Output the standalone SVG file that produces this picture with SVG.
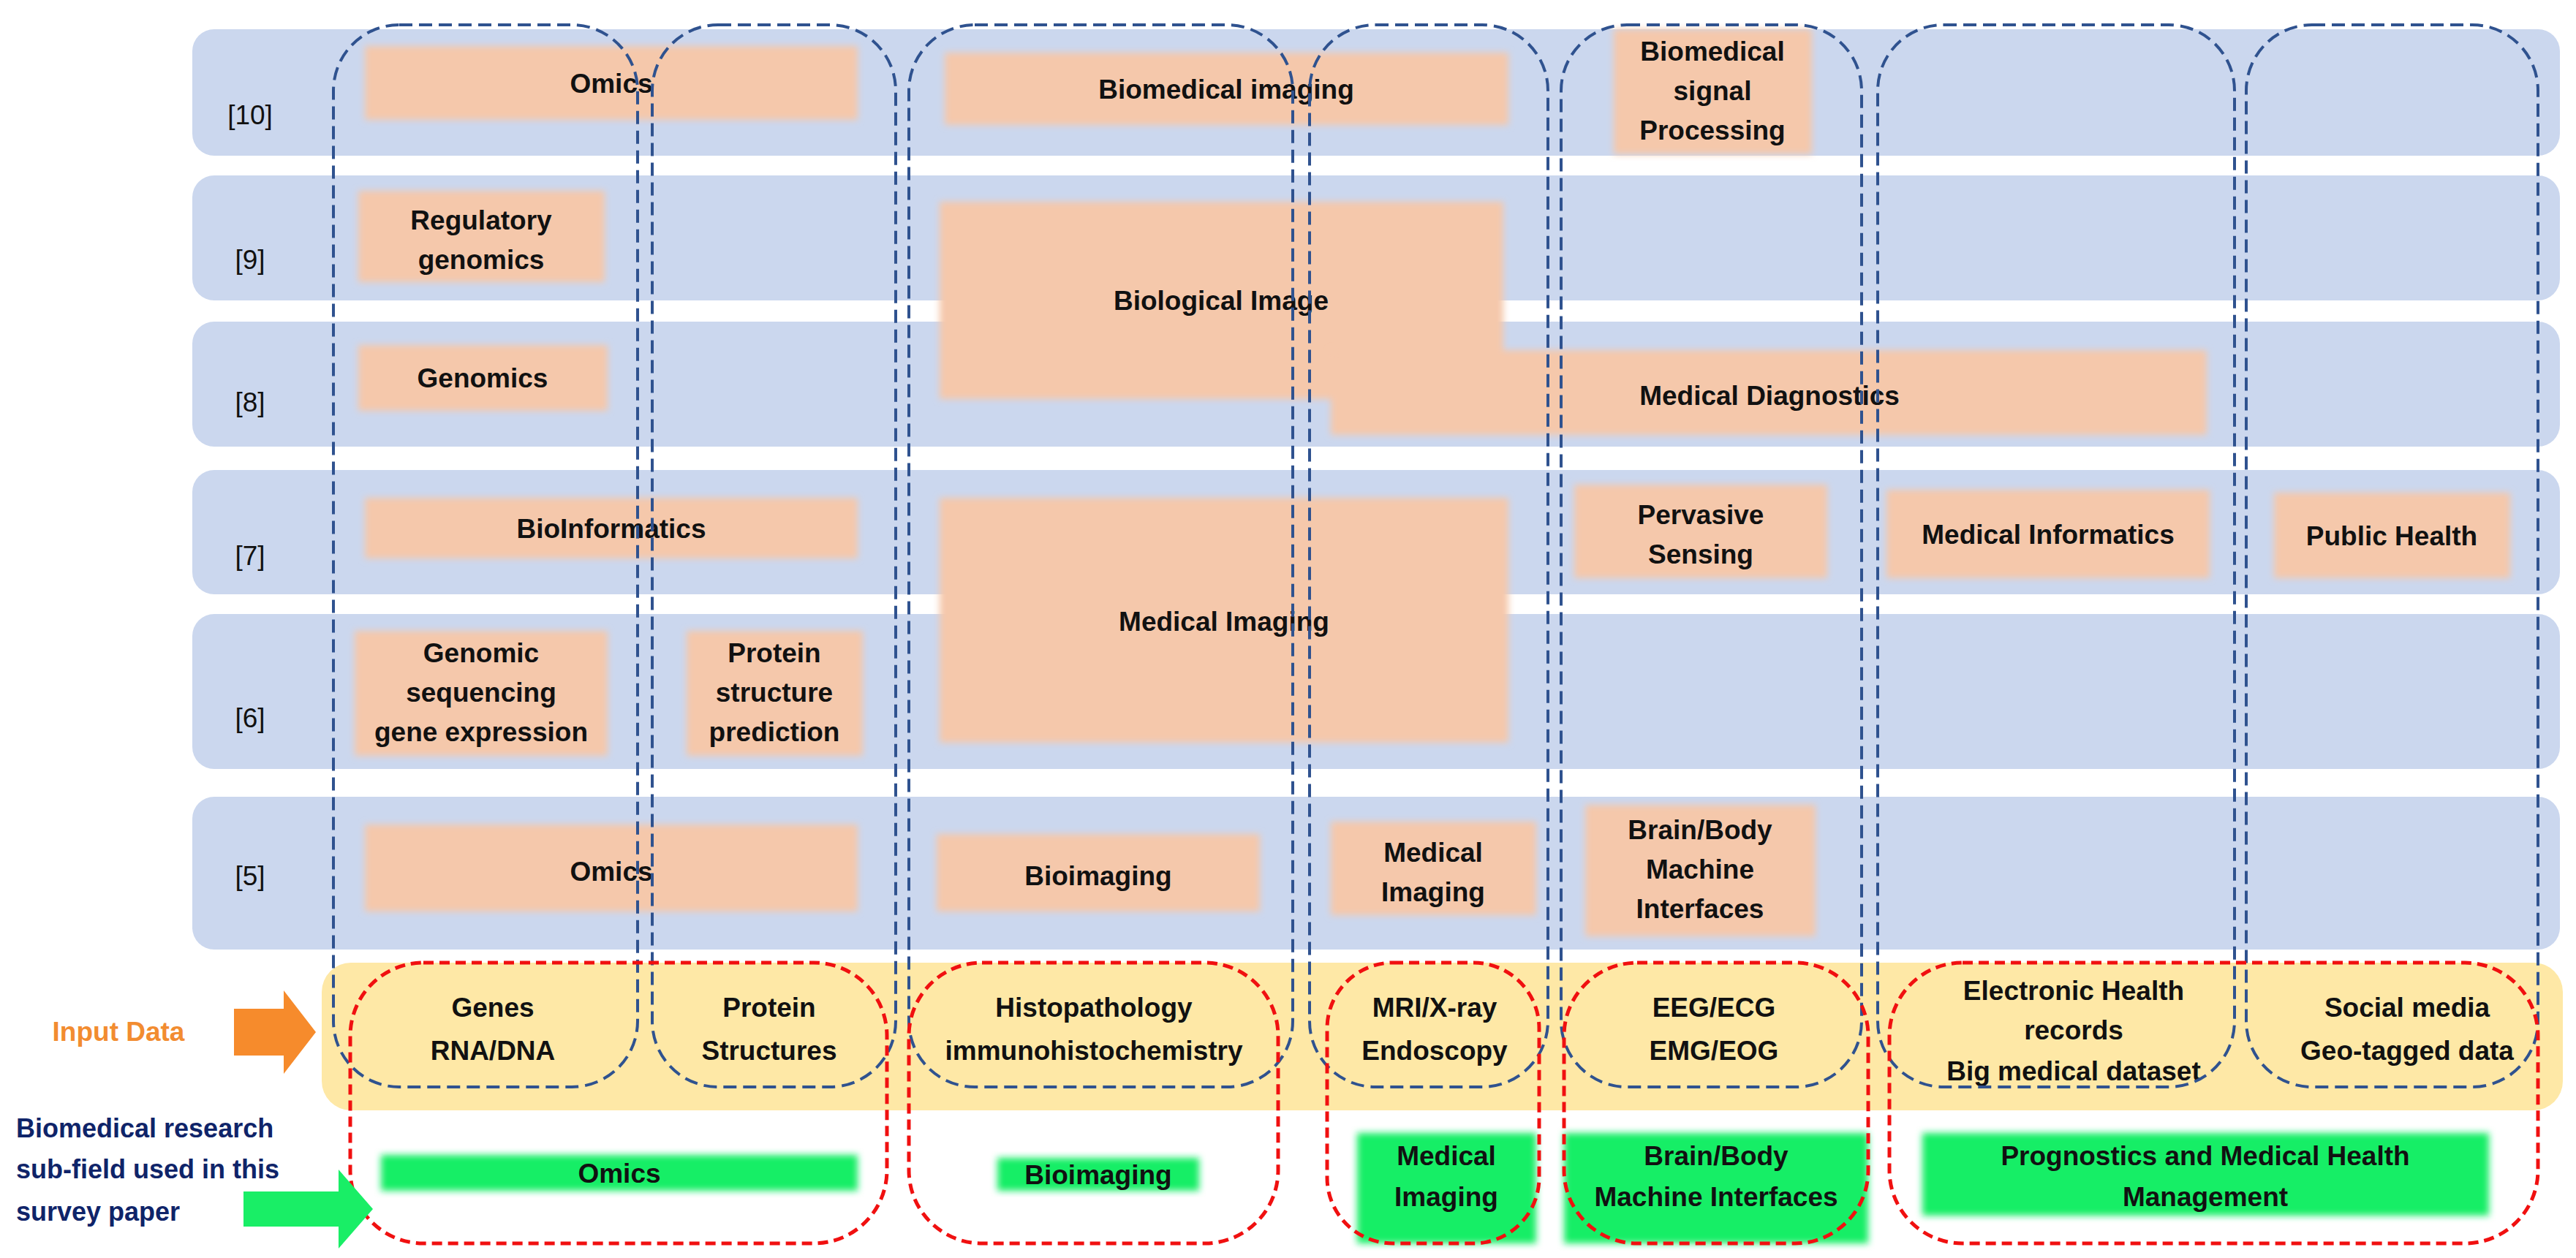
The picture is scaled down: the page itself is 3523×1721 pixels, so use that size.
<svg xmlns="http://www.w3.org/2000/svg" width="3523" height="1721" viewBox="0 0 3523 1721">
<style>
.row{fill:#cbd7ee}
.ob{fill:#f5c8ab;filter:url(#bl)}
.gb{fill:#19ee66;filter:url(#bl)}
.t{font-family:"Liberation Sans",Arial,sans-serif;font-weight:bold;font-size:37px;fill:#111;text-anchor:middle}
.rl{font-family:"Liberation Sans",Arial,sans-serif;font-size:37px;fill:#111;text-anchor:middle}
.bc{fill:none;stroke:#2f528f;stroke-width:4;stroke-dasharray:18 9}
.rc{fill:none;stroke:#f01010;stroke-width:5;stroke-dasharray:14 8}
</style>
<defs><filter id="bl" x="-5%" y="-20%" width="110%" height="140%"><feGaussianBlur stdDeviation="5"/></filter></defs>
<rect width="3523" height="1721" fill="#fff"/>
<g id="rows">
<rect class="row" x="263" y="40" width="3238" height="173" rx="30"/>
<rect class="row" x="263" y="240" width="3238" height="171" rx="30"/>
<rect class="row" x="263" y="440" width="3238" height="171" rx="30"/>
<rect class="row" x="263" y="643" width="3238" height="170" rx="30"/>
<rect class="row" x="263" y="840" width="3238" height="212" rx="30"/>
<rect class="row" x="263" y="1090" width="3238" height="209" rx="30"/>
<rect x="440" y="1317" width="3065" height="202" rx="40" fill="#fee8a6"/>
<text class="rl" x="342" y="170">[10]</text>
<text class="rl" x="342" y="368">[9]</text>
<text class="rl" x="342" y="563">[8]</text>
<text class="rl" x="342" y="773">[7]</text>
<text class="rl" x="342" y="995">[6]</text>
<text class="rl" x="342" y="1211">[5]</text>
</g>
<g id="orange">
<rect class="ob" x="499" y="63" width="674" height="101"/><text class="t" x="836" y="127">Omics</text>
<rect class="ob" x="1292" y="72" width="771" height="99"/><text class="t" x="1677" y="135">Biomedical imaging</text>
<rect class="ob" x="2207" y="40" width="271" height="171"/><text class="t" x="2342" y="83">Biomedical</text><text class="t" x="2342" y="137">signal</text><text class="t" x="2342" y="191">Processing</text>
<rect class="ob" x="490" y="261" width="337" height="125"/><text class="t" x="658" y="314">Regulatory</text><text class="t" x="658" y="368">genomics</text>
<rect class="ob" x="490" y="472" width="341" height="90"/><text class="t" x="660" y="530">Genomics</text>
<rect class="ob" x="1285" y="276" width="771" height="270"/><text class="t" x="1670" y="424">Biological Image</text>
<rect class="ob" x="1820" y="479" width="1198" height="116"/><text class="t" x="2420" y="554">Medical Diagnostics</text>
<rect class="ob" x="499" y="681" width="674" height="83"/><text class="t" x="836" y="736">BioInformatics</text>
<rect class="ob" x="1285" y="681" width="778" height="335"/><text class="t" x="1674" y="863">Medical Imaging</text>
<rect class="ob" x="2153" y="663" width="346" height="128"/><text class="t" x="2326" y="717">Pervasive</text><text class="t" x="2326" y="771">Sensing</text>
<rect class="ob" x="2580" y="670" width="442" height="121"/><text class="t" x="2801" y="744">Medical Informatics</text>
<rect class="ob" x="3110" y="674" width="323" height="117"/><text class="t" x="3271" y="746">Public Health</text>
<rect class="ob" x="485" y="863" width="346" height="171"/><text class="t" x="658" y="906">Genomic</text><text class="t" x="658" y="960">sequencing</text><text class="t" x="658" y="1014">gene expression</text>
<rect class="ob" x="939" y="863" width="241" height="171"/><text class="t" x="1059" y="906">Protein</text><text class="t" x="1059" y="960">structure</text><text class="t" x="1059" y="1014">prediction</text>
<rect class="ob" x="499" y="1128" width="674" height="119"/><text class="t" x="836" y="1205">Omics</text>
<rect class="ob" x="1281" y="1141" width="442" height="106"/><text class="t" x="1502" y="1211">Bioimaging</text>
<rect class="ob" x="1820" y="1124" width="281" height="128"/><text class="t" x="1960" y="1179">Medical</text><text class="t" x="1960" y="1233">Imaging</text>
<rect class="ob" x="2168" y="1101" width="315" height="180"/><text class="t" x="2325" y="1148">Brain/Body</text><text class="t" x="2325" y="1202">Machine</text><text class="t" x="2325" y="1256">Interfaces</text>
</g>
<g id="inputs">
<text class="t" x="674" y="1391">Genes</text><text class="t" x="674" y="1450">RNA/DNA</text>
<text class="t" x="1052" y="1391">Protein</text><text class="t" x="1052" y="1450">Structures</text>
<text class="t" x="1496" y="1391">Histopathology</text><text class="t" x="1496" y="1450">immunohistochemistry</text>
<text class="t" x="1962" y="1391">MRI/X-ray</text><text class="t" x="1962" y="1450">Endoscopy</text>
<text class="t" x="2344" y="1391">EEG/ECG</text><text class="t" x="2344" y="1450">EMG/EOG</text>
<text class="t" x="2836" y="1368">Electronic Health</text><text class="t" x="2836" y="1422">records</text><text class="t" x="2836" y="1478">Big medical dataset</text>
<text class="t" x="3292" y="1391">Social media</text><text class="t" x="3292" y="1450">Geo-tagged data</text>
</g>
<g id="subfields">
<rect class="gb" x="521" y="1580" width="652" height="49"/><text class="t" x="847" y="1618">Omics</text>
<rect class="gb" x="1364" y="1584" width="276" height="45"/><text class="t" x="1502" y="1620">Bioimaging</text>
<rect class="gb" x="1856" y="1550" width="245" height="151"/><text class="t" x="1978" y="1594">Medical</text><text class="t" x="1978" y="1650">Imaging</text>
<rect class="gb" x="2139" y="1550" width="416" height="151"/><text class="t" x="2347" y="1594">Brain/Body</text><text class="t" x="2347" y="1650">Machine Interfaces</text>
<rect class="gb" x="2629" y="1550" width="775" height="113"/><text class="t" x="3016" y="1594">Prognostics and Medical Health</text><text class="t" x="3016" y="1650">Management</text>
</g>
<g id="connectors">
<rect class="bc" x="456" y="34" width="416" height="1453" rx="90"/>
<rect class="bc" x="892" y="34" width="333" height="1453" rx="90"/>
<rect class="bc" x="1243" y="34" width="525" height="1453" rx="90"/>
<rect class="bc" x="1791" y="34" width="326" height="1453" rx="90"/>
<rect class="bc" x="2135" y="34" width="411" height="1453" rx="90"/>
<rect class="bc" x="2568" y="34" width="488" height="1453" rx="90"/>
<rect class="bc" x="3072" y="34" width="399" height="1453" rx="90"/>
<rect class="rc" x="479" y="1317" width="734" height="384" rx="100"/>
<rect class="rc" x="1243" y="1317" width="505" height="384" rx="100"/>
<rect class="rc" x="1815" y="1317" width="290" height="384" rx="90"/>
<rect class="rc" x="2139" y="1317" width="416" height="384" rx="100"/>
<rect class="rc" x="2584" y="1317" width="887" height="384" rx="100"/>
</g>
<g id="legend">
<text x="162" y="1424" font-family="Liberation Sans,Arial,sans-serif" font-weight="bold" font-size="37" fill="#f28c30" text-anchor="middle">Input Data</text>
<polygon points="320,1380 388,1380 388,1355 432,1412 388,1469 388,1444 320,1444" fill="#f68b2c"/>
<text font-family="Liberation Sans,Arial,sans-serif" font-weight="bold" font-size="36" fill="#0f2469"><tspan x="22" y="1556">Biomedical research</tspan><tspan x="22" y="1612">sub-field used in this</tspan><tspan x="22" y="1670">survey paper</tspan></text>
<polygon points="333,1630 463,1630 463,1600 510,1654 463,1708 463,1678 333,1678" fill="#19ee66"/>
</g>
</svg>
